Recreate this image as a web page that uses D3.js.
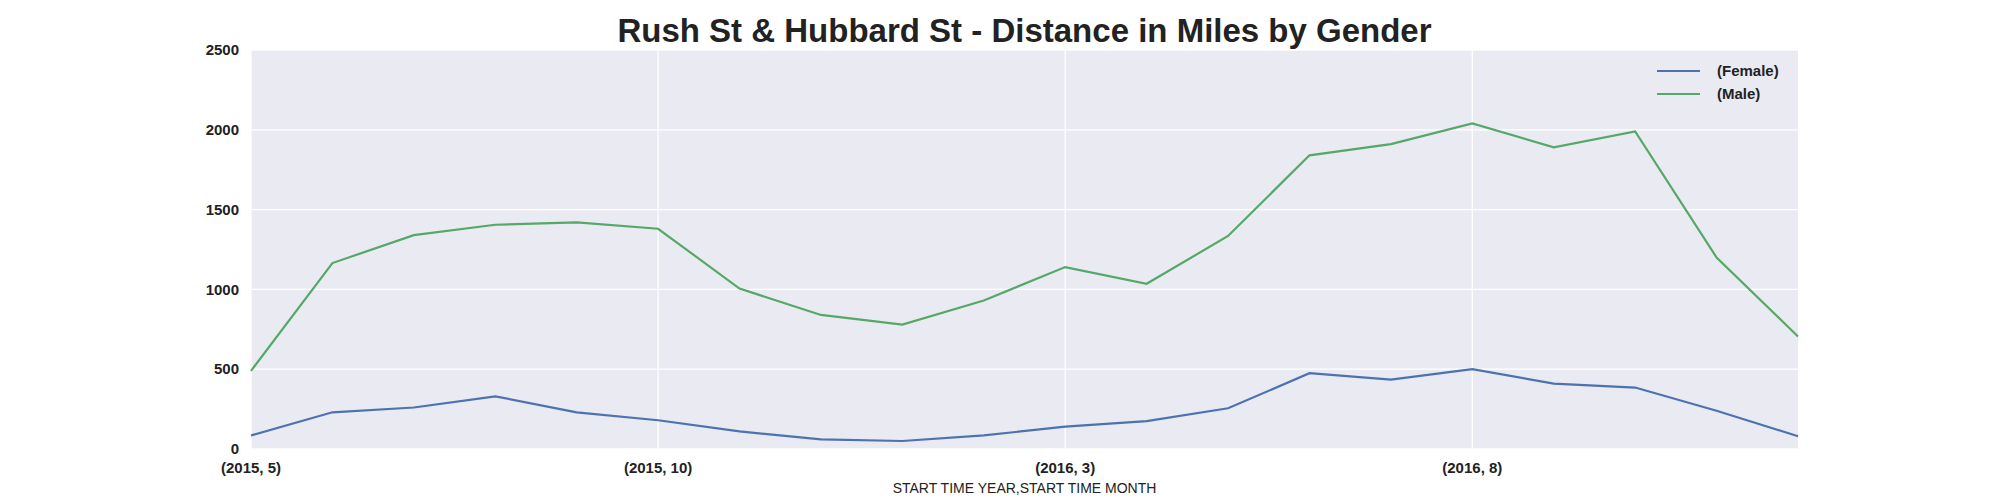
<!DOCTYPE html>
<html>
<head>
<meta charset="utf-8">
<script src="https://cdn.jsdelivr.net/npm/d3@7"></script>
<style>
  body { margin: 0; background: #fff; }
  text { font-family: "Liberation Sans", Arial, sans-serif; fill: #222; }
</style>
</head>
<body>
<svg id="chart" width="2000" height="500"></svg>
<script>
const months = ["(2015, 5)","(2015, 6)","(2015, 7)","(2015, 8)","(2015, 9)","(2015, 10)","(2015, 11)","(2015, 12)",
  "(2016, 1)","(2016, 2)","(2016, 3)","(2016, 4)","(2016, 5)","(2016, 6)","(2016, 7)","(2016, 8)",
  "(2016, 9)","(2016, 10)","(2016, 11)","(2016, 12)"];
const female = [85, 230, 260, 330, 230, 180, 110, 60, 50, 85, 140, 175, 255, 475, 435, 500, 410, 385, 240, 80];
const male = [490, 1165, 1340, 1405, 1420, 1380, 1005, 840, 780, 930, 1140, 1035, 1335, 1840, 1910, 2040, 1890, 1990, 1200, 705];
const yTicks = [0, 500, 1000, 1500, 2000, 2500];
const xTickIdx = [0, 5, 10, 15];
const series = [
  { name: "(Female)", values: female, color: "#4c72b0" },
  { name: "(Male)", values: male, color: "#55a868" }
];

const svg = d3.select("#chart");
const m = { left: 251, right: 202, top: 50, bottom: 51 };
const w = 2000 - m.left - m.right, h = 500 - m.top - m.bottom;

const x = d3.scaleLinear().domain([0, months.length - 1]).range([0, w]);
const y = d3.scaleLinear().domain([0, 2500]).range([h, 0]);

const g = svg.append("g").attr("transform", `translate(${m.left},${m.top})`);
g.append("rect").attr("width", w).attr("height", h).attr("fill", "#eaeaf2");

g.selectAll(".hgrid").data(yTicks).join("line")
  .attr("x1", 0).attr("x2", w).attr("y1", d => y(d)).attr("y2", d => y(d))
  .attr("stroke", "#fff").attr("stroke-width", 1.3);
g.selectAll(".vgrid").data(xTickIdx).join("line")
  .attr("x1", d => x(d)).attr("x2", d => x(d)).attr("y1", 0).attr("y2", h)
  .attr("stroke", "#fff").attr("stroke-width", 1.3);

g.selectAll(".ylab").data(yTicks).join("text")
  .attr("x", -12).attr("y", d => y(d)).attr("dy", "0.35em")
  .attr("text-anchor", "end").attr("font-size", 15).attr("font-weight", "bold")
  .text(d => d);
g.selectAll(".xlab").data(xTickIdx).join("text")
  .attr("x", d => x(d)).attr("y", h + 24)
  .attr("text-anchor", "middle").attr("font-size", 15).attr("font-weight", "bold")
  .text(d => months[d]);

const line = d3.line().x((d, i) => x(i)).y(d => y(d));
g.selectAll(".series").data(series).join("path")
  .attr("d", d => line(d.values)).attr("fill", "none")
  .attr("stroke", d => d.color).attr("stroke-width", 2.2);

const lg = g.selectAll(".leg").data(series).join("g")
  .attr("transform", (d, i) => `translate(${w - 141},${21 + i * 23})`);
lg.append("line").attr("x1", 0).attr("x2", 43).attr("stroke", d => d.color).attr("stroke-width", 2.2);
lg.append("text").attr("x", 60).attr("dy", "0.35em").attr("font-size", 15)
  .attr("font-weight", "bold").text(d => d.name);

svg.append("text").attr("x", m.left + w / 2).attr("y", 42).attr("text-anchor", "middle")
  .attr("font-size", 33).attr("font-weight", "bold").text("Rush St & Hubbard St - Distance in Miles by Gender");
svg.append("text").attr("x", m.left + w / 2).attr("y", 493).attr("text-anchor", "middle")
  .attr("font-size", 14).text("START TIME YEAR,START TIME MONTH");
</script>
</body>
</html>
